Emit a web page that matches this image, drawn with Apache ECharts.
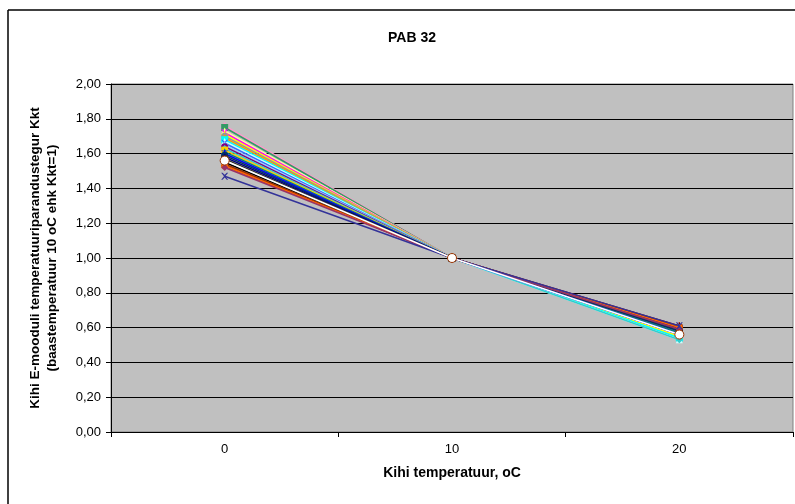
<!DOCTYPE html>
<html>
<head>
<meta charset="utf-8">
<script src="https://cdn.jsdelivr.net/npm/echarts@6/dist/echarts.min.js"></script>
<style>
  html, body { margin: 0; padding: 0; background: #fff; }
  #chart { width: 795px; height: 504px; }
</style>
</head>
<body>
<div id="chart"></div>
<script>
// temperatuurid (kategooriad)
const temperatuurid = ["0", "10", "20"];

// Kkt väärtused iga seeria kohta: 0 oC, 10 oC (alati 1), 20 oC
const kkt0 = [1.76, 1.75, 1.73, 1.72, 1.71, 1.70, 1.69, 1.68, 1.67, 1.66, 1.65, 1.64, 1.63, 1.62, 1.61, 1.60, 1.60, 1.59, 1.58, 1.57, 1.55, 1.54, 1.53, 1.53, 1.52, 1.47, 1.56];
const kkt10 = [1.00, 1.00, 1.00, 1.00, 1.00, 1.00, 1.00, 1.00, 1.00, 1.00, 1.00, 1.00, 1.00, 1.00, 1.00, 1.00, 1.00, 1.00, 1.00, 1.00, 1.00, 1.00, 1.00, 1.00, 1.00, 1.00, 1.00];
const kkt20 = [0.54, 0.55, 0.55, 0.56, 0.55, 0.56, 0.57, 0.54, 0.53, 0.56, 0.57, 0.57, 0.53, 0.58, 0.57, 0.58, 0.56, 0.58, 0.59, 0.59, 0.60, 0.60, 0.61, 0.60, 0.59, 0.61, 0.56];

const varvid = ["#FF99CC", "#339966", "#FFFF99", "#FF00FF", "#FFFF00", "#969696", "#FF9900", "#00FFFF", "#CCFFFF", "#3366FF",
  "#99CCFF", "#800080", "#33CCCC", "#FFCC00", "#008080", "#666699", "#0000FF", "#003366", "#000080", "#333333",
  "#000000", "#993300", "#800000", "#FF6600", "#993366", "#333399", "#FFFFFF"];

const ristPath = "path://M0,0L2,0L5,3L8,0L10,0L6,5L10,10L8,10L5,7L2,10L0,10L4,5Z";
const plussPath = "path://M4,0L6,0L6,4L10,4L10,6L6,6L6,10L4,10L4,6L0,6L0,4L4,4Z";
const markerid = ["diamond", "rect", "triangle", ristPath, plussPath, "circle"];

const font = "'Liberation Sans', Arial, sans-serif";

const seeriad = kkt0.map((v, i) => {
  const c = varvid[i];
  const viimane = i === kkt0.length - 1;
  return {
    name: "S" + (i + 1),
    type: "line",
    data: [v, kkt10[i], kkt20[i]],
    symbol: viimane ? "circle" : (i === kkt0.length - 2 ? ristPath : markerid[i % markerid.length]),
    symbolSize: viimane ? 9 : 7,
    showAllSymbol: true,
    lineStyle: { color: viimane ? "#FFFFFF" : c, width: 1.5 },
    itemStyle: {
      color: c,
      borderColor: viimane ? "#993300" : c,
      borderWidth: viimane ? 1 : 0
    },
    emphasis: { disabled: true },
    animation: false,
    z: 3 + i
  };
});

const chart = echarts.init(document.getElementById("chart"));
chart.setOption({
  backgroundColor: "#FFFFFF",
  animation: false,
  title: {
    text: "PAB 32",
    left: 383,
    top: 26,
    textStyle: { fontFamily: font, fontSize: 14, fontWeight: "bold", color: "#000" }
  },
  grid: {
    left: 111,
    right: 2,
    top: 84,
    bottom: 72,
    show: true,
    backgroundColor: "#C0C0C0",
    borderColor: "#808080",
    borderWidth: 1
  },
  xAxis: {
    type: "category",
    data: temperatuurid,
    boundaryGap: true,
    name: "Kihi temperatuur, oC",
    nameLocation: "middle",
    nameGap: 34,
    nameTextStyle: { fontFamily: font, fontSize: 14, fontWeight: "bold", color: "#000" },
    axisLine: { lineStyle: { color: "#000", width: 1 } },
    axisTick: { show: true, length: 5, lineStyle: { color: "#000" } },
    axisLabel: { fontFamily: font, fontSize: 13, color: "#000", margin: 11 },
    splitLine: { show: false }
  },
  yAxis: {
    type: "value",
    min: 0,
    max: 2,
    interval: 0.2,
    name: "Kihi E-mooduli temperatuuriparandustegur Kkt\n(baastemperatuur 10 oC ehk Kkt=1)",
    nameLocation: "middle",
    nameGap: 50,
    nameRotate: 90,
    nameTextStyle: { fontFamily: font, fontSize: 13.5, fontWeight: "bold", color: "#000", lineHeight: 17 },
    axisLine: { show: true, lineStyle: { color: "#000", width: 1 } },
    axisTick: { show: true, length: 5, lineStyle: { color: "#000" } },
    axisLabel: {
      fontFamily: font, fontSize: 13, color: "#000", margin: 10,
      formatter: v => v.toFixed(2).replace(".", ",")
    },
    splitLine: { show: true, lineStyle: { color: "#000", width: 1 } }
  },
  graphic: [
    { type: "line", shape: { x1: 8, y1: 10, x2: 795, y2: 10 }, style: { stroke: "#000", lineWidth: 1.5 }, z: 100 },
    { type: "line", shape: { x1: 8, y1: 10, x2: 8, y2: 504 }, style: { stroke: "#000", lineWidth: 1.5 }, z: 100 }
  ],
  series: seeriad
});
</script>
</body>
</html>
